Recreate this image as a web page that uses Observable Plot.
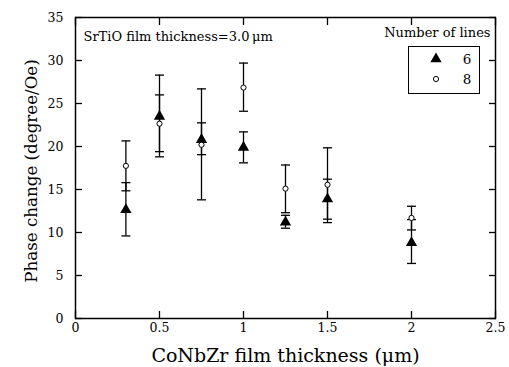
<!DOCTYPE html>
<html>
<head>
<meta charset="utf-8">
<script src="https://cdn.jsdelivr.net/npm/d3@7"></script>
<script src="https://cdn.jsdelivr.net/npm/@observablehq/plot@0.6"></script>
<style>
  html, body { margin: 0; padding: 0; background: #fff; }
  #wrap { position: relative; width: 509px; height: 367px; font-family: "DejaVu Serif", serif; }
  #legend { position: absolute; left: 408px; top: 46px; width: 70px; height: 46px; border: 1.5px solid #000; }
  #wrap svg text { font-family: "DejaVu Serif", serif; }
</style>
</head>
<body>
<div id="wrap"></div>
<script>
// CoNbZr film thickness (µm)
const thickness = [0.3, 0.5, 0.75, 1.0, 1.25, 1.5, 2.0];
// Number of lines = 6 (filled triangles)
const lines6   = [12.65, 23.5, 20.8, 19.9, 11.2, 13.9, 8.8];
const lines6Lo = [9.6, 18.8, 19.05, 18.1, 10.5, 11.55, 6.4];
const lines6Hi = [15.8, 28.3, 22.75, 21.7, 12.0, 16.2, 11.5];
// Number of lines = 8 (open circles)
const lines8   = [17.75, 22.65, 20.2, 26.85, 15.1, 15.55, 11.7];
const lines8Lo = [14.85, 19.4, 13.8, 24.1, 12.3, 11.15, 10.3];
const lines8Hi = [20.65, 26.0, 26.7, 29.7, 17.85, 19.85, 13.05];

const xTicks = [0, 0.5, 1, 1.5, 2, 2.5];
const yTicks = [0, 5, 10, 15, 20, 25, 30, 35];
const seriesNames = ["6", "8"];

const s6 = thickness.map((x, i) => ({x, y: lines6[i], lo: lines6Lo[i], hi: lines6Hi[i]}));
const s8 = thickness.map((x, i) => ({x, y: lines8[i], lo: lines8Lo[i], hi: lines8Hi[i]}));
const all = s6.concat(s8);

const cap = { draw(ctx) { ctx.moveTo(-4.5, 0); ctx.lineTo(4.5, 0); } };
const font = "DejaVu Serif";

const chart = Plot.plot({
  width: 509,
  height: 367,
  marginLeft: 75,
  marginRight: 14,
  marginTop: 17,
  marginBottom: 49,
  style: { fontFamily: font, background: "#fff", color: "#000" },
  x: { domain: [0, 2.5] },
  y: { domain: [0, 35] },
  marks: [
    Plot.frame({ stroke: "#000", strokeWidth: 1.5 }),
    Plot.axisX({ ticks: xTicks, tickSize: -7, tickPadding: 12, tickFormat: d => String(d), fontSize: 12.5, fontFamily: font, label: null, strokeWidth: 1.3 }),
    Plot.axisX({ anchor: "top", ticks: xTicks, tickSize: -7, tickFormat: () => "", label: null, strokeWidth: 1.3 }),
    Plot.axisY({ ticks: yTicks, tickSize: -7, tickPadding: 19, tickFormat: d => String(d), fontSize: 12.5, fontFamily: font, label: null, strokeWidth: 1.3 }),
    Plot.axisY({ anchor: "right", ticks: yTicks, tickSize: -7, tickFormat: () => "", label: null, strokeWidth: 1.3 }),
    Plot.ruleX(all, { x: "x", y1: "lo", y2: "hi", stroke: "#000", strokeWidth: 1.3 }),
    Plot.dot(all, { x: "x", y: "lo", symbol: cap, r: 4, stroke: "#000", strokeWidth: 1.3, fill: "none" }),
    Plot.dot(all, { x: "x", y: "hi", symbol: cap, r: 4, stroke: "#000", strokeWidth: 1.3, fill: "none" }),
    Plot.dot(s6, { x: "x", y: "y", symbol: "triangle", r: 4.2, fill: "#000", stroke: "none" }),
    Plot.dot(s8, { x: "x", y: "y", symbol: "circle", r: 2.6, fill: "#fff", stroke: "#000", strokeWidth: 1 }),
    Plot.text(["SrTiO film thickness=3.0\u2009\u03bcm"], { frameAnchor: "top-left", dx: 8, dy: 14, fontSize: 13, fontFamily: font, textAnchor: "start", fill: "#000" }),
    Plot.text(["Number of lines"], { frameAnchor: "top-right", dx: -5, dy: 10, fontSize: 13, fontFamily: font, textAnchor: "end", fill: "#000" }),
    Plot.text(["CoNbZr film thickness (\u03bcm)"], { frameAnchor: "bottom", dy: 37, fontSize: 19, fontFamily: font, textAnchor: "middle", lineAnchor: "middle", fill: "#000" }),
    Plot.text(["Phase change (degree/Oe)"], { frameAnchor: "left", dx: -44, dy: 3, rotate: -90, fontSize: 16.7, fontFamily: font, textAnchor: "middle", lineAnchor: "middle", fill: "#000" })
  ]
});

const wrap = document.getElementById("wrap");
wrap.appendChild(chart);

// legend box
const legend = document.createElement("div");
legend.id = "legend";
const ns = "http://www.w3.org/2000/svg";
const lsvg = document.createElementNS(ns, "svg");
lsvg.setAttribute("width", 70);
lsvg.setAttribute("height", 46);
lsvg.style.display = "block";
seriesNames.forEach((name, i) => {
  const cy = 12 + i * 20;
  const p = document.createElementNS(ns, "path");
  if (i === 0) {
    p.setAttribute("d", d3.symbol(d3.symbolTriangle, Math.PI * 4.2 * 4.2)());
    p.setAttribute("fill", "#000");
  } else {
    p.setAttribute("d", d3.symbol(d3.symbolCircle, Math.PI * 2.6 * 2.6)());
    p.setAttribute("fill", "#fff");
    p.setAttribute("stroke", "#000");
  }
  p.setAttribute("transform", `translate(27,${cy})`);
  lsvg.appendChild(p);
  const t = document.createElementNS(ns, "text");
  t.setAttribute("x", 58);
  t.setAttribute("y", cy);
  t.setAttribute("dy", "0.35em");
  t.setAttribute("text-anchor", "middle");
  t.setAttribute("font-size", 13.5);
  t.setAttribute("font-family", font);
  t.textContent = name;
  lsvg.appendChild(t);
});
legend.appendChild(lsvg);
wrap.appendChild(legend);
</script>
</body>
</html>
